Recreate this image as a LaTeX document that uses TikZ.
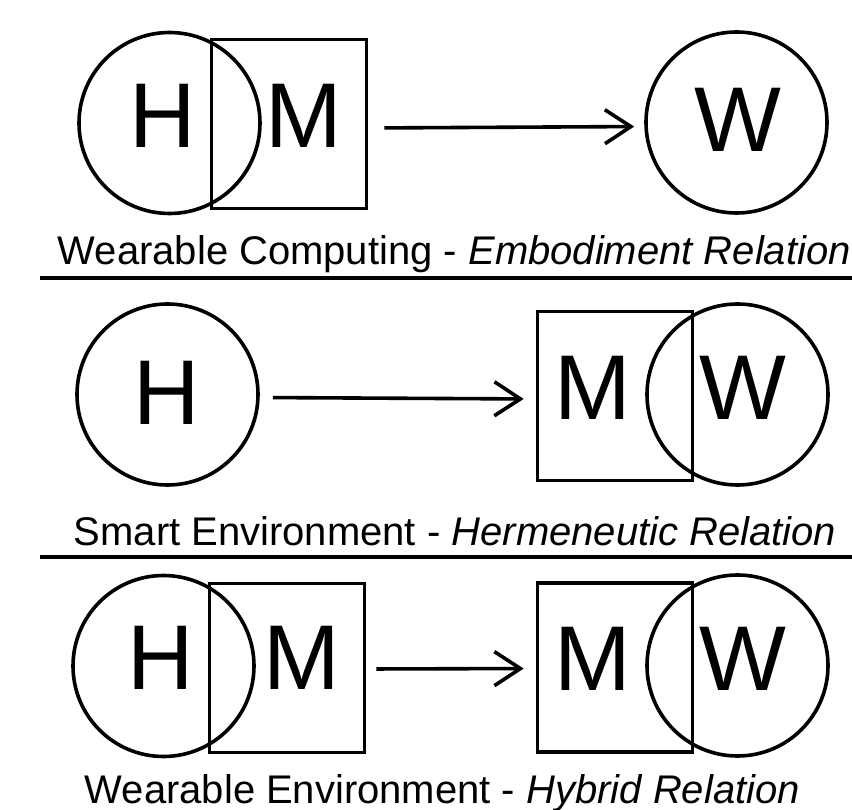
\documentclass[tikz,border=0pt]{standalone}
\usepackage{fontspec}
\setmainfont{Liberation Sans}
\usetikzlibrary{arrows.meta}

\begin{document}
\begin{tikzpicture}[x=1pt,y=-1pt,line width=3.6pt,
	human/.style={circle,draw,minimum size=181pt,inner sep=0pt},
	machine/.style={rectangle,draw,minimum width=155pt,minimum height=169pt,inner sep=0pt},
	letter/.style={inner sep=0pt,font=\fontsize{92}{92}\selectfont},
	relation/.style={-{Straight Barb[length=26pt,width=34pt]}},
	]
	\useasboundingbox (0,0) rectangle (852,810);

	% Wearable computing
	\node[human] (H1) at (169.5,123) {};
	\node[machine] (M1) at (289,124) {};
	\node[human] (W1) at (736.5,122.5) {};
	\node[letter] (h1) at (163,116) {H};
	\node[letter] (m1) at (304,116) {M};
	\node[letter] (w1) at (737.5,120) {W};
	\draw[relation,shorten <=16pt,shorten >=10pt] ([yshift=-4pt]M1.east) -- ([yshift=-4pt]W1.west);

	% Smart environment
	\node[human] (H2) at (167.5,394.5) {};
	\node[machine] (M2) at (615,396) {};
	\node[human] (W2) at (737.5,394.5) {};
	\node[letter] (h2) at (167,393) {H};
	\node[letter] (m2) at (593,388) {M};
	\node[letter] (w2) at (743,388) {W};
	\draw[relation,shorten <=13pt,shorten >=12pt] ([yshift=-3pt]H2.east) -- ([yshift=-3pt]M2.west);

	% Wearable environment
	\node[human] (H3) at (163.5,666) {};
	\node[machine] (M3) at (287,668) {};
	\node[machine] (N3) at (615,667.5) {};
	\node[human] (W3) at (737.5,665.5) {};
	\node[letter] (h3) at (161,658) {H};
	\node[letter] (m3) at (302,658) {M};
	\node[letter] (n3) at (593,659) {M};
	\node[letter] (w3) at (743,659) {W};
	\draw[relation,shorten <=10pt,shorten >=12pt] ([yshift=-1pt]M3.east) -- ([yshift=-1pt]N3.west);

	\tikzstyle{caption}=[anchor=base west,inner sep=0pt,font=\fontsize{40}{48}\selectfont]
	\node[caption] (c1) at (56,265) {Wearable Computing - \textit{Embodiment Relation}};
	\node[caption] (c2) at (72,545) {Smart Environment - \textit{Hermeneutic Relation}};
	\node[caption] (c3) at (83,803) {Wearable Environment - \textit{Hybrid Relation}};

	% The rules:
	\draw (40,278) -- (852,278);
	\draw (40,557) -- (852,557);
\end{tikzpicture}
\end{document}
